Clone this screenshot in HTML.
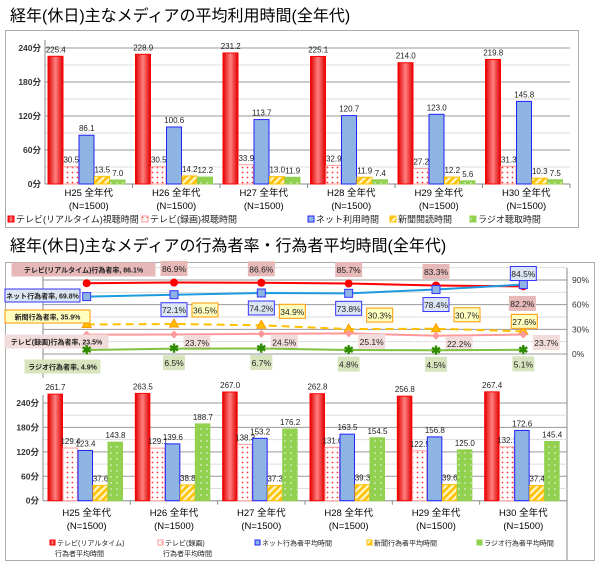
<!DOCTYPE html>
<html><head><meta charset="utf-8">
<style>
html,body{margin:0;padding:0;background:#fff;}
svg{display:block;font-family:"Liberation Sans","Noto Sans CJK JP",sans-serif;}
</style></head>
<body>
<svg id="c" width="600" height="567" viewBox="0 0 600 567" xmlns="http://www.w3.org/2000/svg">
<defs>
<linearGradient id="gRed" x1="0" x2="1" y1="0" y2="0"><stop offset="0" stop-color="#e00000"/><stop offset="0.5" stop-color="#ff8080"/><stop offset="1" stop-color="#e00000"/></linearGradient>
<pattern id="pPink" width="5" height="5" patternUnits="userSpaceOnUse"><rect width="5" height="5" fill="#fff"/><circle cx="2.5" cy="2.5" r="0.9" fill="#ff3333"/></pattern>
<pattern id="pOrange" width="5" height="5" patternUnits="userSpaceOnUse" patternTransform="rotate(45)"><rect width="5" height="5" fill="#fff3c0"/><rect width="2.5" height="5" fill="#ffc000"/></pattern>
<pattern id="pGreen" width="6" height="6" patternUnits="userSpaceOnUse"><rect width="6" height="6" fill="#92d050"/><circle cx="3" cy="3" r="0.7" fill="#fff"/></pattern>
</defs>
<text x="10" y="21" font-size="16" fill="#000">経年(休日)主なメディアの平均利用時間(全年代)</text>
<rect x="5.5" y="30.5" width="573" height="197" fill="none" stroke="#aaa"/>
<text x="10" y="251" font-size="16" fill="#000">経年(休日)主なメディアの行為者率・行為者平均時間(全年代)</text>
<rect x="5.5" y="262.5" width="589" height="298" fill="none" stroke="#aaa"/>
<g id="top"></g><g id="line"></g><g id="bot"></g>
</svg>
<script>
// ---------- data ----------
const categories = ["H25 全年代","H26 全年代","H27 全年代","H28 全年代","H29 全年代","H30 全年代"];
const topTvReal = [225.4,228.9,231.2,225.1,214.0,219.8];
const topTvRec = [30.5,30.5,33.9,32.9,27.2,31.3];
const topNet = [86.1,100.6,113.7,120.7,123.0,145.8];
const topPaper = [13.5,14.2,13.0,11.9,12.2,10.3];
const topRadio = [7.0,12.2,11.9,7.4,5.6,7.5];
const rateTvReal = [86.1,86.9,86.6,85.7,83.3,82.2];
const rateNet = [69.8,72.1,74.2,73.8,78.4,84.5];
const ratePaper = [35.9,36.5,34.9,30.3,30.7,27.6];
const rateTvRec = [23.5,23.7,24.5,25.1,22.2,23.7];
const rateRadio = [4.9,6.5,6.7,4.8,4.5,5.1];
const avgTvReal = [261.7,263.5,267.0,262.8,256.8,267.4];
const avgTvRec = [129.4,129.1,138.3,131.0,122.5,132.1];
const avgNet = [123.4,139.6,153.2,163.5,156.8,172.6];
const avgPaper = [37.6,38.8,37.3,39.3,39.6,37.4];
const avgRadio = [143.8,188.7,176.2,154.5,125.0,145.4];
const minuteTicks = [0,60,120,180,240];
const rateTicks = [0,30,60,90];

const NS="http://www.w3.org/2000/svg";
function el(parent,tag,attrs,text){const e=document.createElementNS(NS,tag);for(const k in attrs)e.setAttribute(k,attrs[k]);if(text!==undefined)e.textContent=text;parent.appendChild(e);return e;}
const styles=[{fill:"url(#gRed)",stroke:"#ff0000"},{fill:"url(#pPink)",stroke:"#ff9999"},{fill:"#8db4e2",stroke:"#2222ff"},{fill:"url(#pOrange)",stroke:"#ffc000"},{fill:"url(#pGreen)",stroke:"#92d050"}];

function barChart(g,prefix,series,x0,x1,y0,yTop,maxV,minorLines,offset,bw,catY){
  const gw=(x1-x0)/categories.length;
  const ys=v=>y0-(v/maxV)*(y0-yTop);
  for(let v=30;v<=maxV;v+=30){
    const line=el(g,"line",{x1:x0,x2:x1,y1:ys(v),y2:ys(v),stroke:(v%60===0)?"#999":"#ddd","stroke-width":1});
    
    
  }
  minuteTicks.forEach(t=>{
    const tx=el(g,"text",{x:x0-4,y:ys(t)+3,"font-size":8.5,"text-anchor":"end","font-weight":"bold",fill:"#333"},t+"分");
    
    
  });
  const ax=el(g,"line",{x1:x0,x2:x0,y1:yTop-8,y2:y0,stroke:"#888"});
  
  
  const xa=el(g,"line",{x1:x0,x2:x1,y1:y0,y2:y0,stroke:"#888"});
  
  
  categories.forEach((c,i)=>{
    const gx=x0+i*gw;
    const tk=el(g,"line",{x1:gx+gw,x2:gx+gw,y1:y0,y2:y0+4,stroke:"#888"});
    
    
    series.forEach((s,j)=>{
      const v=s[i];const bx=gx+offset+j*bw;
      const r=el(g,"rect",{x:bx,y:ys(v),width:bw-0.5,height:y0-ys(v),fill:styles[j].fill,stroke:styles[j].stroke,"stroke-width":1});
      
      
      const t=el(g,"text",{x:bx+bw/2,y:ys(v)-4,"font-size":8,"text-anchor":"middle",fill:"#222"},v.toFixed(1));
      
      
    });
    const cl=el(g,"text",{x:gx+gw/2,y:catY,"font-size":9.5,"text-anchor":"middle",fill:"#000"},c);
    
    
    const nl=el(g,"text",{x:gx+gw/2,y:catY+13,"font-size":9.5,"text-anchor":"middle",fill:"#000"},"(N=1500)");
    
    
  });
}

// ---------- top chart ----------
const gt=document.getElementById("top");
barChart(gt,"top",[topTvReal,topTvRec,topNet,topPaper,topRadio],45,570,184,48,240,true,3,15.5,196);
const topLegend=[["テレビ(リアルタイム)視聴時間",8],["テレビ(録画)視聴時間",142],["ネット利用時間",308],["新聞閲読時間",390],["ラジオ聴取時間",470]];
topLegend.forEach((l,j)=>{
  const r=el(gt,"rect",{x:l[1],y:216,width:6,height:6,fill:styles[j].fill,stroke:styles[j].stroke});
  
  
  const t=el(gt,"text",{x:l[1]+8,y:222.5,"font-size":9,fill:"#222"},l[0]);
  
  
});

// ---------- line chart ----------
const gl=document.getElementById("line");
const lx0=43,lx1=567,ly0=354,lyTop=280;
const lgw=(lx1-lx0)/categories.length;
const lx=i=>lx0+lgw*i+lgw/2;
const ly=v=>ly0-(v/90)*(ly0-lyTop);
for(let v=0;v<=105;v+=15){
  const gl1=el(gl,"line",{x1:lx0,x2:lx1,y1:ly(v),y2:ly(v),stroke:(v%30===0)?"#999":"#ddd"});
  
  
}
const rax=el(gl,"line",{x1:lx1,x2:lx1,y1:268,y2:560,stroke:"#888"});


const lax=el(gl,"line",{x1:lx0,x2:lx0,y1:268,y2:378,stroke:"#888"});


rateTicks.forEach(t=>{
  const tx=el(gl,"text",{x:572,y:ly(t)+3,"font-size":8.5,fill:"#333"},t+"%");
  
  
});
const lineSeries=[
 {d:rateTvReal,name:"tv-realtime",color:"#ff0000",mk:"circle",box:"#e6b9b8",bs:"#e6b9b8",lbl:"テレビ(リアルタイム)行為者率, ",nx:12,nw:143,ny:263},
 {d:rateNet,name:"net",color:"#1e9be0",mk:"square",box:"#dce6f2",bs:"#3333ff",lbl:"ネット行為者率, ",nx:5,nw:75,ny:289},
 {d:ratePaper,name:"newspaper",color:"#ffc000",mk:"tri",box:"#ffffc0",bs:"#ff9900",lbl:"新聞行為者率, ",nx:5,nw:85,ny:310,dash:"8,5"},
 {d:rateTvRec,name:"tv-recorded",color:"#ff9999",mk:"diamond",box:"#f2dcdb",bs:"#f2dcdb",lbl:"テレビ(録画)行為者率, ",nx:5,nw:103,ny:335},
 {d:rateRadio,name:"radio",color:"#7fc241",mk:"x",box:"#d7e4bd",bs:"#d7e4bd",lbl:"ラジオ行為者率, ",nx:25,nw:75,ny:360}
];
lineSeries.forEach((s,si)=>{
  const pts=s.d.map((v,i)=>lx(i)+","+ly(v)).join(" ");
  const pl=el(gl,"polyline",{points:pts,fill:"none",stroke:s.color,"stroke-width":2,"stroke-dasharray":s.dash||"none"});
  
  
  s.d.forEach((v,i)=>{
    const x=lx(i),y=ly(v);let m;
    if(s.mk==="circle")m=el(gl,"circle",{cx:x,cy:y,r:4,fill:"#ff0000"});
    else if(s.mk==="square")m=el(gl,"rect",{x:x-4,y:y-4,width:8,height:8,fill:"#8db4e2",stroke:"#3333ff"});
    else if(s.mk==="tri")m=el(gl,"polygon",{points:`${x},${y-5} ${x-4.5},${y+3} ${x+4.5},${y+3}`,fill:"#ffc000",stroke:"#ff9900"});
    else if(s.mk==="diamond")m=el(gl,"polygon",{points:`${x},${y-4} ${x+4},${y} ${x},${y+4} ${x-4},${y}`,fill:"#ff9999"});
    else m=el(gl,"text",{x:x,y:y+4,"font-size":12,"font-weight":"bold","text-anchor":"middle",fill:"#2e8b00"},"✱");
    
    
    let bx,by,bw=(v>=10?26:21),bh=14,txt=v.toFixed(1)+"%";
    if(i===0){bx=s.nx;by=s.ny;bw=s.nw;bh=13;txt=s.lbl+txt;}
    else if(si===0){ if(i===5){bx=x-14;by=y+10;} else {bx=x-bw/2;by=y-21;} }
    else if(si===1){ if(i===5){bx=x-bw/2;by=y-18;} else {bx=x-bw/2;by=y+8;} }
    else if(si===2){ if(i===5){bx=x-12;by=y-17;} else {bx=x+18;by=y-21;} }
    else if(si===3){ bx=x+10;by=y+1; }
    else { bx=x-bw/2;by=y+7; }
    const r=el(gl,"rect",{x:bx,y:by,width:bw,height:bh,fill:s.box,stroke:s.bs,"stroke-width":1});
    
    
    const t=el(gl,"text",{x:bx+bw/2,y:by+bh-3.5,"font-size":i===0?7:8.5,"text-anchor":"middle",fill:"#222","font-weight":i===0?"bold":"normal"},txt);
    
    
  });
});

// ---------- bottom bar chart ----------
const gb=document.getElementById("bot");
barChart(gb,"avg",[avgTvReal,avgTvRec,avgNet,avgPaper,avgRadio],43,567,500.7,403,240,true,5,15,516);
const botLegend=[["テレビ(リアルタイム)","行為者平均時間",50],["テレビ(録画)","行為者平均時間",158],["ネット行為者平均時間","",255],["新聞行為者平均時間","",367],["ラジオ行為者平均時間","",477]];
botLegend.forEach((l,j)=>{
  const r=el(gb,"rect",{x:l[2],y:540,width:5,height:5,fill:styles[j].fill,stroke:styles[j].stroke});
  
  
  const t=el(gb,"text",{x:l[2]+7,y:545.5,"font-size":7,fill:"#222"},l[0]);
  
  
  if(l[1]){
    const t2=el(gb,"text",{x:l[2]+5,y:556,"font-size":7,fill:"#222"},l[1]);
    
    
  }
});
</script>
</body></html>
